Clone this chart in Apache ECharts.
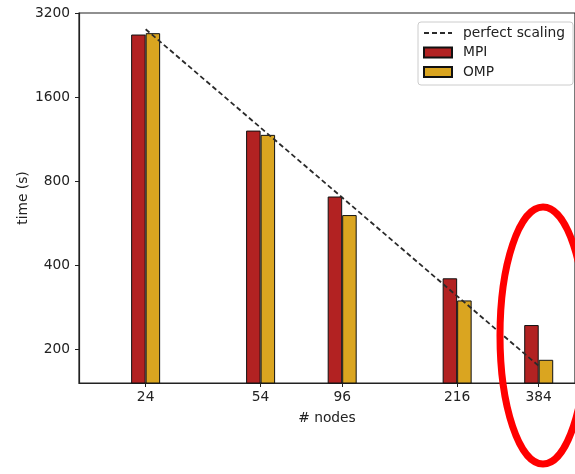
<!DOCTYPE html>
<html>
<head>
<meta charset="utf-8">
<script src="https://cdn.jsdelivr.net/npm/echarts@6/dist/echarts.min.js"></script>
<style>
html,body{margin:0;padding:0;background:#fff;}
#chart{width:575px;height:474px;}
</style>
</head>
<body>
<div id="chart"></div>
<script>
const nodes = [24, 54, 96, 216, 384];
const mpiTimes = [2680, 1215, 706, 360, 245];
const ompTimes = [2710, 1173, 606, 300, 184];
const perfectTimes = [2800, 1244, 700, 311, 175];
const yTicks = [200, 400, 800, 1600, 3200];
const xTicks = [24, 54, 96, 216, 384];

const FONT = 'DejaVu Sans';
const FS = 13.8;
const pair = (xs, ys) => xs.map((x, i) => [x, ys[i]]);

const chart = echarts.init(document.getElementById('chart'), null, {renderer: 'canvas'});
chart.setOption({
  animation: false,
  backgroundColor: '#fff',
  textStyle: {fontFamily: FONT},
  grid: {
    left: 79, top: 13, width: 500, height: 370,
    show: true, borderColor: '#222', borderWidth: 1.2, backgroundColor: 'transparent'
  },
  legend: {
    orient: 'vertical',
    left: 418, top: 22,
    width: 155,
    padding: [3, 8, 5, 5],
    itemWidth: 28, itemHeight: 10, itemGap: 3.5,
    borderColor: '#ccc', borderWidth: 1, borderRadius: 3,
    backgroundColor: 'rgba(255,255,255,0.8)',
    selectedMode: false,
    textStyle: {fontFamily: FONT, fontSize: FS, color: '#222', lineHeight: 16, padding: [0, 0, 0, 6]},
    data: [
      {name: 'perfect scaling', itemStyle: {opacity: 0}},
      {name: 'MPI', icon: 'rect'},
      {name: 'OMP', icon: 'rect'}
    ]
  },
  xAxis: {
    type: 'log',
    logBase: Math.E,
    min: 15, max: 496,
    name: '# nodes',
    nameLocation: 'middle',
    nameGap: 28,
    nameMoveOverlap: false,
    nameTextStyle: {fontFamily: FONT, fontSize: FS, color: '#222'},
    axisLine: {show: true, lineStyle: {color: '#222', width: 1.2}},
    axisTick: {show: true, length: 4, inside: false, customValues: xTicks, lineStyle: {color: '#222', width: 1}},
    axisLabel: {show: true, margin: 7, customValues: xTicks, fontFamily: FONT, fontSize: FS, color: '#222', formatter: v => String(Math.round(v))},
    splitLine: {show: false},
    minorTick: {show: false}
  },
  yAxis: {
    type: 'log',
    logBase: 2,
    min: 152, max: 3200,
    name: 'time (s)',
    nameLocation: 'middle',
    nameGap: 49,
    nameMoveOverlap: false,
    nameRotate: 90,
    nameTextStyle: {fontFamily: FONT, fontSize: FS, color: '#222'},
    axisLine: {show: true, lineStyle: {color: '#222', width: 1.2}},
    axisTick: {show: true, length: 4, inside: false, customValues: yTicks, lineStyle: {color: '#222', width: 1}},
    axisLabel: {show: true, margin: 9, customValues: yTicks, fontFamily: FONT, fontSize: FS, color: '#222', formatter: v => String(Math.round(v))},
    splitLine: {show: false},
    minorTick: {show: false}
  },
  series: [
    {
      name: 'MPI',
      type: 'bar',
      data: pair(nodes, mpiTimes),
      barWidth: 14.5,
      barGap: '0%',
      clip: true,
      itemStyle: {color: '#b22222', borderColor: '#111', borderWidth: 1}
    },
    {
      name: 'OMP',
      type: 'bar',
      data: pair(nodes, ompTimes),
      barWidth: 14.5,
      barGap: '0%',
      clip: true,
      itemStyle: {color: '#daa520', borderColor: '#111', borderWidth: 1}
    },
    {
      name: 'perfect scaling',
      type: 'line',
      data: pair(nodes, perfectTimes),
      showSymbol: false,
      symbol: 'none',
      z: 5,
      itemStyle: {color: '#2a2a2a'},
      lineStyle: {color: '#2a2a2a', width: 1.8, type: [5, 3]}
    }
  ],
  graphic: [
    {
      type: 'ellipse',
      z: 100,
      shape: {cx: 543, cy: 335.5, rx: 43, ry: 128.5},
      style: {fill: null, stroke: '#ff0000', lineWidth: 7}
    }
  ]
});
</script>
</body>
</html>
